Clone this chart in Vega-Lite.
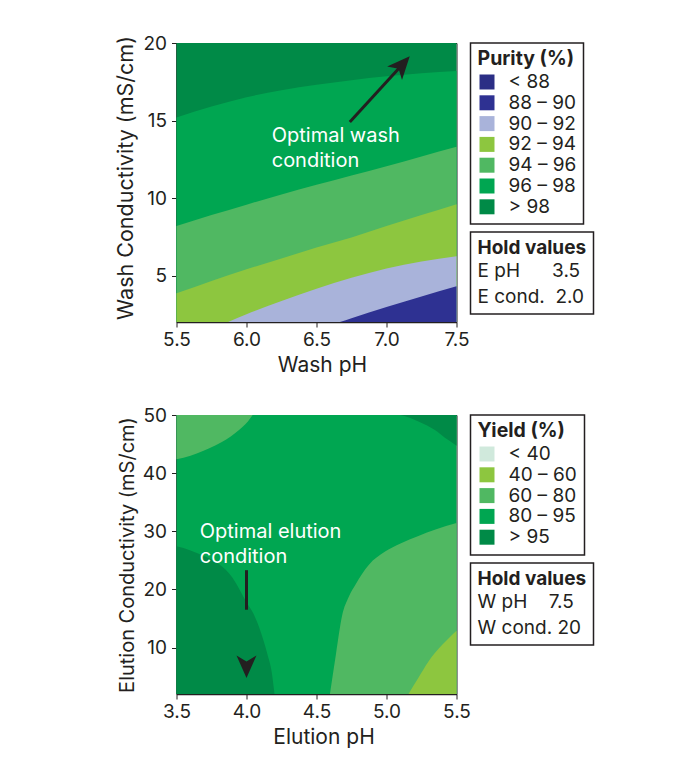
{
  "$schema": "https://vega.github.io/schema/vega-lite/v6.json",
  "padding": {"left": 114.5, "top": 33, "right": 5, "bottom": 5},
  "spacing": 29,
  "datasets": {
    "purity": [
      {"x": 5.5, "y": 20, "band": "> 98"}, {"x": 7.5, "y": 20, "band": "> 98"},
      {"x": 5.5, "y": 15.2, "band": "96 – 98"}, {"x": 5.75, "y": 15.9, "band": "96 – 98"}, {"x": 6.0, "y": 16.5, "band": "96 – 98"}, {"x": 6.25, "y": 16.95, "band": "96 – 98"}, {"x": 6.5, "y": 17.3, "band": "96 – 98"}, {"x": 6.75, "y": 17.6, "band": "96 – 98"}, {"x": 7.0, "y": 17.85, "band": "96 – 98"}, {"x": 7.25, "y": 18.05, "band": "96 – 98"}, {"x": 7.5, "y": 18.2, "band": "96 – 98"},
      {"x": 5.5, "y": 8.2, "band": "94 – 96"}, {"x": 5.75, "y": 8.9, "band": "94 – 96"}, {"x": 6.0, "y": 9.57, "band": "94 – 96"}, {"x": 6.25, "y": 10.23, "band": "94 – 96"}, {"x": 6.5, "y": 10.85, "band": "94 – 96"}, {"x": 6.75, "y": 11.45, "band": "94 – 96"}, {"x": 7.0, "y": 12.05, "band": "94 – 96"}, {"x": 7.25, "y": 12.68, "band": "94 – 96"}, {"x": 7.5, "y": 13.3, "band": "94 – 96"},
      {"x": 5.5, "y": 3.85, "band": "92 – 94"}, {"x": 5.75, "y": 4.65, "band": "92 – 94"}, {"x": 6.0, "y": 5.4, "band": "92 – 94"}, {"x": 6.25, "y": 6.1, "band": "92 – 94"}, {"x": 6.5, "y": 6.8, "band": "92 – 94"}, {"x": 6.75, "y": 7.45, "band": "92 – 94"}, {"x": 7.0, "y": 8.2, "band": "92 – 94"}, {"x": 7.25, "y": 8.9, "band": "92 – 94"}, {"x": 7.5, "y": 9.6, "band": "92 – 94"},
      {"x": 5.869, "y": 2, "band": "90 – 92"}, {"x": 6.0, "y": 2.5, "band": "90 – 92"}, {"x": 6.25, "y": 3.35, "band": "90 – 92"}, {"x": 6.5, "y": 4.15, "band": "90 – 92"}, {"x": 6.75, "y": 4.85, "band": "90 – 92"}, {"x": 7.0, "y": 5.45, "band": "90 – 92"}, {"x": 7.25, "y": 5.9, "band": "90 – 92"}, {"x": 7.5, "y": 6.25, "band": "90 – 92"},
      {"x": 6.667, "y": 2, "band": "88 – 90"}, {"x": 6.75, "y": 2.25, "band": "88 – 90"}, {"x": 7.0, "y": 2.97, "band": "88 – 90"}, {"x": 7.25, "y": 3.65, "band": "88 – 90"}, {"x": 7.5, "y": 4.3, "band": "88 – 90"}
    ],
    "yield": [
      {"x": 3.5, "y": 50, "lo": 2, "region": "bg", "cls": "80 – 95"}, {"x": 5.5, "y": 50, "lo": 2, "region": "bg", "cls": "80 – 95"},
      {"x": 3.5, "y": 27.4, "lo": 2, "region": "a", "cls": "> 95"}, {"x": 3.6, "y": 26.7, "lo": 2, "region": "a", "cls": "> 95"}, {"x": 3.7, "y": 25.7, "lo": 2, "region": "a", "cls": "> 95"}, {"x": 3.8, "y": 24.4, "lo": 2, "region": "a", "cls": "> 95"}, {"x": 3.9, "y": 22.0, "lo": 2, "region": "a", "cls": "> 95"}, {"x": 3.95, "y": 20.0, "lo": 2, "region": "a", "cls": "> 95"}, {"x": 4.0, "y": 17.8, "lo": 2, "region": "a", "cls": "> 95"}, {"x": 4.05, "y": 15.8, "lo": 2, "region": "a", "cls": "> 95"}, {"x": 4.1, "y": 12.8, "lo": 2, "region": "a", "cls": "> 95"}, {"x": 4.15, "y": 8.8, "lo": 2, "region": "a", "cls": "> 95"}, {"x": 4.18, "y": 5.8, "lo": 2, "region": "a", "cls": "> 95"}, {"x": 4.2, "y": 2, "lo": 2, "region": "a", "cls": "> 95"},
      {"x": 3.5, "y": 50, "lo": 42.4, "region": "b", "cls": "60 – 80"}, {"x": 3.6, "y": 50, "lo": 43.0, "region": "b", "cls": "60 – 80"}, {"x": 3.689, "y": 50, "lo": 43.8, "region": "b", "cls": "60 – 80"}, {"x": 3.78, "y": 50, "lo": 44.8, "region": "b", "cls": "60 – 80"}, {"x": 3.855, "y": 50, "lo": 45.8, "region": "b", "cls": "60 – 80"}, {"x": 3.92, "y": 50, "lo": 46.9, "region": "b", "cls": "60 – 80"}, {"x": 3.973, "y": 50, "lo": 48.0, "region": "b", "cls": "60 – 80"}, {"x": 4.01, "y": 50, "lo": 48.9, "region": "b", "cls": "60 – 80"}, {"x": 4.044, "y": 50, "lo": 50, "region": "b", "cls": "60 – 80"},
      {"x": 5.098, "y": 50, "lo": 50, "region": "c", "cls": "> 95"}, {"x": 5.17, "y": 50, "lo": 49.5, "region": "c", "cls": "> 95"}, {"x": 5.228, "y": 50, "lo": 48.9, "region": "c", "cls": "> 95"}, {"x": 5.29, "y": 50, "lo": 48.2, "region": "c", "cls": "> 95"}, {"x": 5.346, "y": 50, "lo": 47.4, "region": "c", "cls": "> 95"}, {"x": 5.417, "y": 50, "lo": 46.1, "region": "c", "cls": "> 95"}, {"x": 5.46, "y": 50, "lo": 45.4, "region": "c", "cls": "> 95"}, {"x": 5.5, "y": 50, "lo": 44.7, "region": "c", "cls": "> 95"},
      {"x": 4.596, "y": 2, "lo": 2, "region": "d", "cls": "60 – 80"}, {"x": 4.64, "y": 9.0, "lo": 2, "region": "d", "cls": "60 – 80"}, {"x": 4.683, "y": 15.5, "lo": 2, "region": "d", "cls": "60 – 80"}, {"x": 4.73, "y": 18.7, "lo": 2, "region": "d", "cls": "60 – 80"}, {"x": 4.78, "y": 20.9, "lo": 2, "region": "d", "cls": "60 – 80"}, {"x": 4.873, "y": 24.2, "lo": 2, "region": "d", "cls": "60 – 80"}, {"x": 4.99, "y": 26.5, "lo": 2, "region": "d", "cls": "60 – 80"}, {"x": 5.1, "y": 27.9, "lo": 2, "region": "d", "cls": "60 – 80"}, {"x": 5.228, "y": 29.2, "lo": 2, "region": "d", "cls": "60 – 80"}, {"x": 5.35, "y": 30.3, "lo": 2, "region": "d", "cls": "60 – 80"}, {"x": 5.5, "y": 31.4, "lo": 2, "region": "d", "cls": "60 – 80"},
      {"x": 5.157, "y": 2, "lo": 2, "region": "e", "cls": "40 – 60"}, {"x": 5.228, "y": 4.8, "lo": 2, "region": "e", "cls": "40 – 60"}, {"x": 5.3, "y": 7.6, "lo": 2, "region": "e", "cls": "40 – 60"}, {"x": 5.4, "y": 10.5, "lo": 2, "region": "e", "cls": "40 – 60"}, {"x": 5.5, "y": 12.9, "lo": 2, "region": "e", "cls": "40 – 60"}
    ]
  },
  "vconcat": [
    {
      "width": 280,
      "height": 279,
      "layer": [
        {
          "data": {"name": "purity"},
          "mark": {"type": "area", "interpolate": "monotone"},
          "encoding": {
            "x": {"field": "x", "type": "quantitative", "title": "Wash pH", "scale": {"domain": [5.5, 7.5], "nice": false, "zero": false}, "axis": {"values": [5.5, 6, 6.5, 7, 7.5], "format": ".1f", "titleX": 145.5}},
            "y": {"field": "y", "type": "quantitative", "title": "Wash Conductivity (mS/cm)", "scale": {"domain": [2, 20], "nice": false, "zero": false}, "axis": {"values": [5, 10, 15, 20], "titleFontSize": 21.5, "titleY": 134.5}},
            "y2": {"datum": 2},
            "color": {"field": "band", "type": "nominal", "scale": {"domain": ["< 88", "88 – 90", "90 – 92", "92 – 94", "94 – 96", "96 – 98", "> 98"], "range": ["#2b2e85", "#2e3192", "#a9b3da", "#8dc63f", "#50b862", "#00a651", "#008a47"]}, "legend": {"title": "Purity (%)", "labelExpr": "datum.label + '\u00a0\u00a0'"}}
          }
        },
        {
          "data": {"values": [{"x": 6.738, "y": 14.9, "x2": 7.099, "y2": 18.47}]},
          "mark": {"type": "rule", "color": "#231f20", "strokeWidth": 3},
          "encoding": {
            "x": {"field": "x", "type": "quantitative", "title": "Wash pH"},
            "y": {"field": "y", "type": "quantitative", "title": "Wash Conductivity (mS/cm)"},
            "x2": {"field": "x2"},
            "y2": {"field": "y2"}
          }
        },
        {
          "data": {"values": [{"x": 7.166, "y": 19.14}]},
          "mark": {"type": "point", "shape": "M0,0L0.88,-2L0,-1.47L-0.88,-2Z", "size": 515, "filled": true, "opacity": 1, "color": "#231f20", "angle": 221.9},
          "encoding": {
            "x": {"field": "x", "type": "quantitative", "title": "Wash pH"},
            "y": {"field": "y", "type": "quantitative", "title": "Wash Conductivity (mS/cm)"}
          }
        },
        {
          "data": {"values": [{"x": 6.18, "y": 13.61, "label": "Optimal wash\ncondition"}]},
          "mark": {"type": "text", "color": "white", "font": "Inter", "fontSize": 20, "align": "left", "baseline": "alphabetic", "lineBreak": "\n", "lineHeight": 24.5},
          "encoding": {
            "x": {"field": "x", "type": "quantitative", "title": "Wash pH"},
            "y": {"field": "y", "type": "quantitative", "title": "Wash Conductivity (mS/cm)"},
            "text": {"field": "label"}
          }
        },
        {
          "data": {"values": [{"hold": "E pH\u00a0\u00a0\u00a0\u00a0\u00a0\u00a03.5"}, {"hold": "E cond.\u00a0\u00a02.0"}]},
          "mark": {"type": "point", "opacity": 0},
          "encoding": {
            "shape": {"field": "hold", "type": "nominal", "scale": {"domain": ["E pH\u00a0\u00a0\u00a0\u00a0\u00a0\u00a03.5", "E cond.\u00a0\u00a02.0"]}, "legend": {"title": "Hold values", "symbolSize": 0, "symbolOpacity": 0, "symbolStrokeWidth": 0, "labelOffset": -19, "rowPadding": 6, "titleFontSize": 19}}
          }
        }
      ]
    },
    {
      "width": 280,
      "height": 279,
      "layer": [
        {
          "data": {"name": "yield"},
          "mark": {"type": "area", "interpolate": "monotone"},
          "encoding": {
            "x": {"field": "x", "type": "quantitative", "title": "Elution pH", "scale": {"domain": [3.5, 5.5], "nice": false, "zero": false}, "axis": {"values": [3.5, 4, 4.5, 5, 5.5], "format": ".1f", "titleX": 147}},
            "y": {"field": "y", "type": "quantitative", "title": "Elution Conductivity (mS/cm)", "scale": {"domain": [2, 50], "nice": false, "zero": false}, "axis": {"values": [10, 20, 30, 40, 50], "titleFontSize": 20}},
            "y2": {"field": "lo"},
            "detail": {"field": "region"},
            "color": {"field": "cls", "type": "nominal", "scale": {"domain": ["< 40", "40 – 60", "60 – 80", "80 – 95", "> 95"], "range": ["#d0e9dc", "#8dc63f", "#50b862", "#00a651", "#008a47"]}, "legend": {"title": "Yield (%)", "labelExpr": "datum.label + '\u00a0\u00a0'"}}
          }
        },
        {
          "data": {"values": [{"x": 4.0, "y": 23.3, "x2": 4.0, "y2": 16.5}]},
          "mark": {"type": "rule", "color": "#231f20", "strokeWidth": 3},
          "encoding": {
            "x": {"field": "x", "type": "quantitative", "title": "Elution pH"},
            "y": {"field": "y", "type": "quantitative", "title": "Elution Conductivity (mS/cm)"},
            "x2": {"field": "x2"},
            "y2": {"field": "y2"}
          }
        },
        {
          "data": {"values": [{"x": 4.0, "y": 4.74}]},
          "mark": {"type": "point", "shape": "M0,0L0.88,-2L0,-1.47L-0.88,-2Z", "size": 515, "filled": true, "opacity": 1, "color": "#231f20", "angle": 0},
          "encoding": {
            "x": {"field": "x", "type": "quantitative", "title": "Elution pH"},
            "y": {"field": "y", "type": "quantitative", "title": "Elution Conductivity (mS/cm)"}
          }
        },
        {
          "data": {"values": [{"x": 3.666, "y": 28.9, "label": "Optimal elution\ncondition"}]},
          "mark": {"type": "text", "color": "white", "font": "Inter", "fontSize": 20, "align": "left", "baseline": "alphabetic", "lineBreak": "\n", "lineHeight": 25},
          "encoding": {
            "x": {"field": "x", "type": "quantitative", "title": "Elution pH"},
            "y": {"field": "y", "type": "quantitative", "title": "Elution Conductivity (mS/cm)"},
            "text": {"field": "label"}
          }
        },
        {
          "data": {"values": [{"hold": "W pH\u00a0\u00a0\u00a0\u00a07.5"}, {"hold": "W cond.\u00a020"}]},
          "mark": {"type": "point", "opacity": 0},
          "encoding": {
            "shape": {"field": "hold", "type": "nominal", "scale": {"domain": ["W pH\u00a0\u00a0\u00a0\u00a07.5", "W cond.\u00a020"]}, "legend": {"title": "Hold values", "symbolSize": 0, "symbolOpacity": 0, "symbolStrokeWidth": 0, "labelOffset": -19, "rowPadding": 6, "titleFontSize": 19}}
          }
        }
      ]
    }
  ],
  "resolve": {"scale": {"color": "independent", "shape": "independent"}, "legend": {"color": "independent", "shape": "independent"}},
  "config": {
    "font": "Inter",
    "view": {"stroke": "#231f20", "strokeWidth": 1},
    "axis": {"labelFont": "Inter", "titleFont": "Inter", "labelFontSize": 19, "titleFontSize": 21, "titleFontWeight": "normal", "labelColor": "#231f20", "titleColor": "#231f20", "domainColor": "#231f20", "domainWidth": 1.5, "tickColor": "#231f20", "tickWidth": 1, "tickSize": 5, "grid": false, "labelPadding": 3, "titlePadding": 5, "labelFlush": false, "labelOverlap": false},
    "axisY": {"labelPadding": 5},
    "legend": {"orient": "right", "offset": 14, "strokeColor": "#231f20", "strokeWidth": 1.5, "padding": 7, "titleFont": "Inter", "titleFontSize": 19.5, "titleFontWeight": "bold", "titleColor": "#231f20", "labelFont": "Inter", "labelFontSize": 19, "labelColor": "#231f20", "symbolType": "square", "symbolSize": 225, "symbolStrokeWidth": 0, "rowPadding": 0.8, "labelOffset": 12, "titlePadding": 3}
  }
}
